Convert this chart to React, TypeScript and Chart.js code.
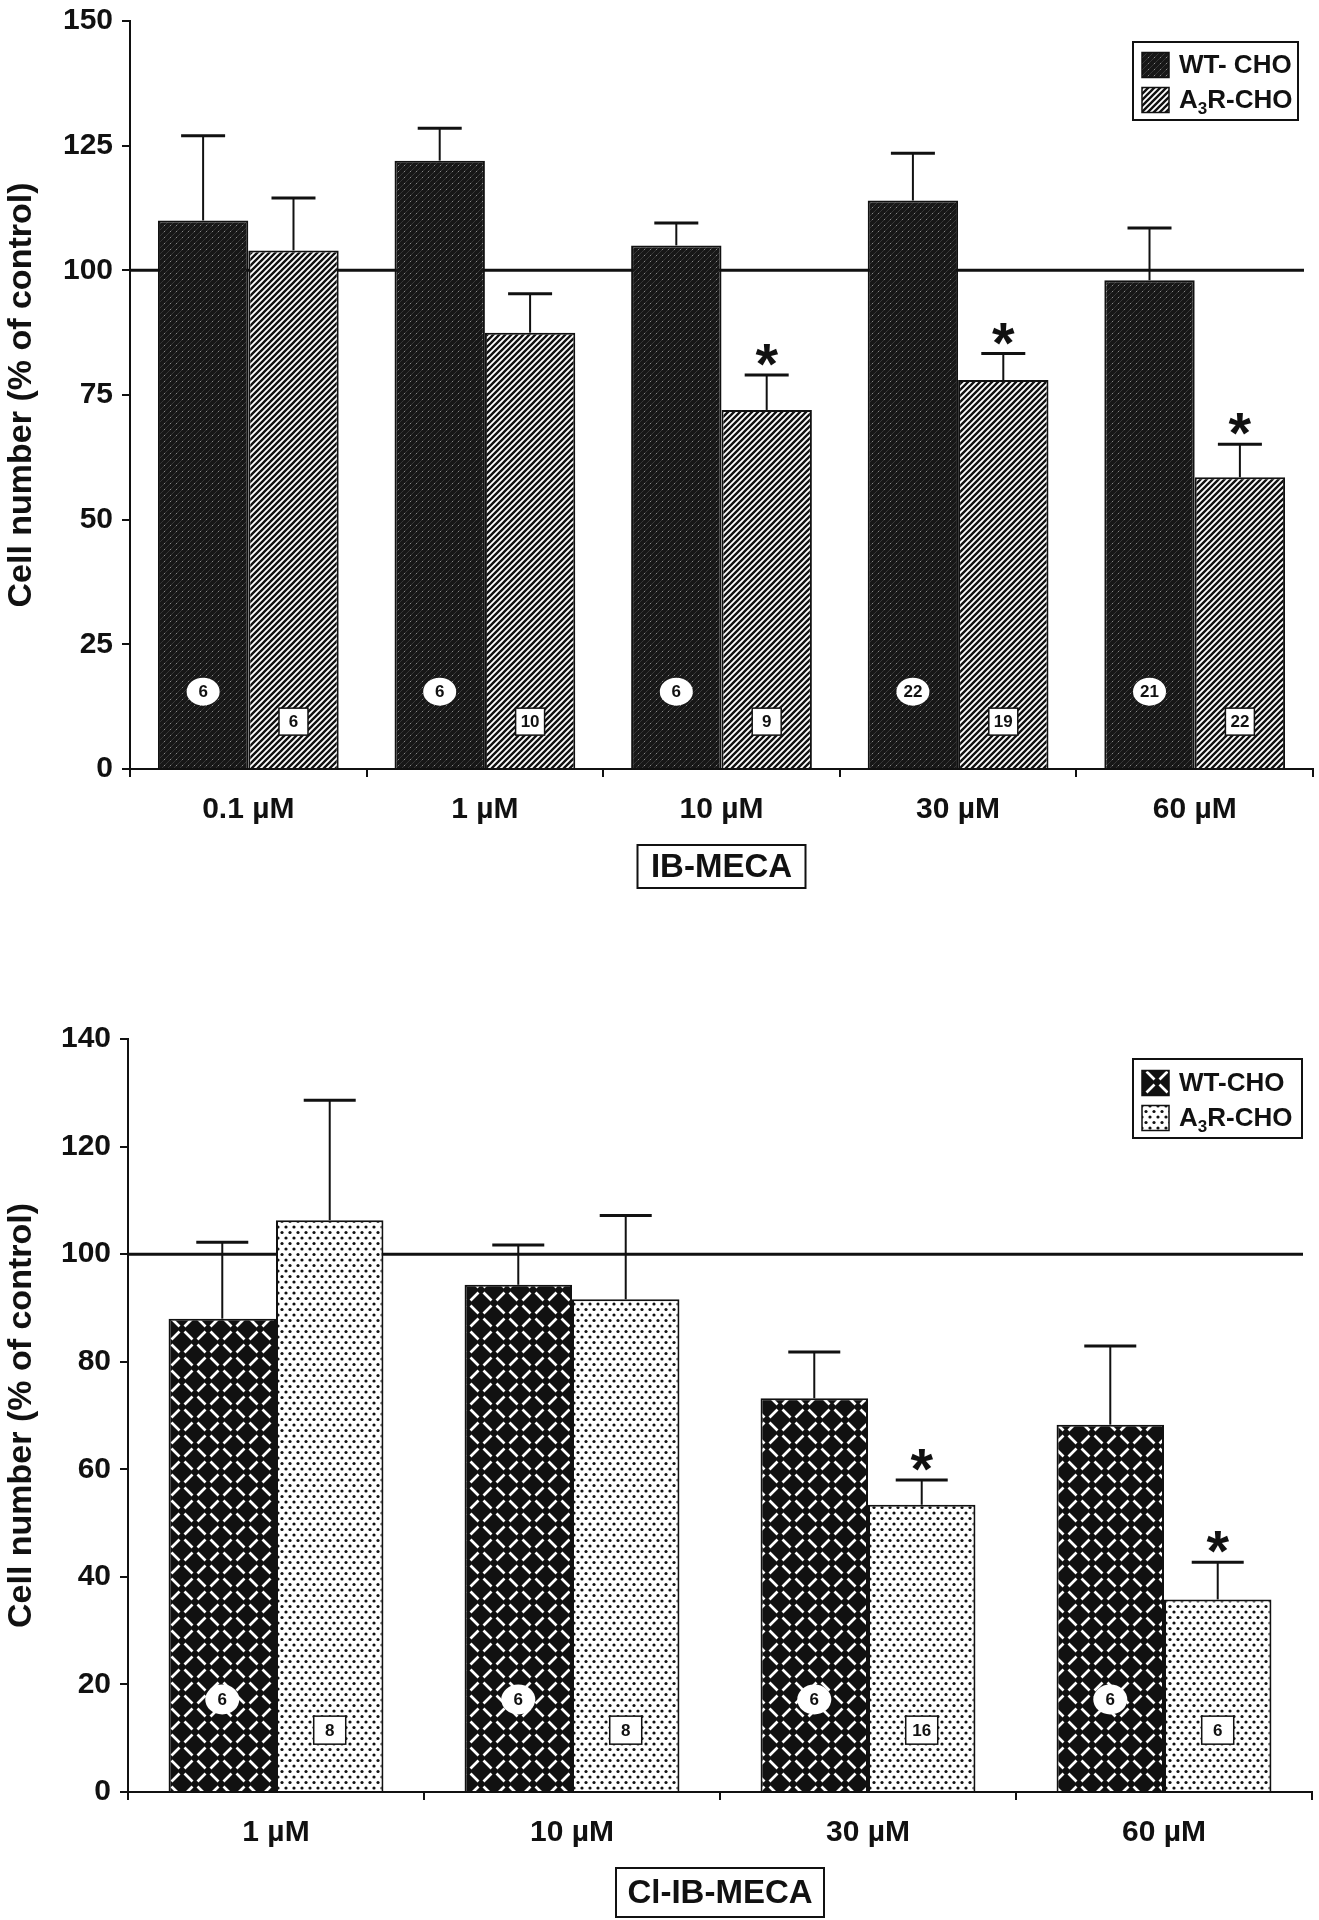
import React, { useEffect, useRef } from 'react';
import { Chart, registerables } from 'chart.js';

Chart.register(...registerables);

const FONT = '"Liberation Sans", Arial, Helvetica, sans-serif';
const INK = '#111111';

// ---------- Panel A: IB-MECA ----------
const ibCategories = ['0.1 µM', '1 µM', '10 µM', '30 µM', '60 µM'];
const ibWT = [110, 122, 105, 114, 98];
const ibWTErr = [17, 6.5, 4.5, 9.5, 10.5];
const ibA3R = [104, 87.5, 72, 78, 58.5];
const ibA3RErr = [10.5, 7.8, 7, 5.3, 6.6];
const ibWTn = [6, 6, 6, 22, 21];
const ibA3Rn = [6, 10, 9, 19, 22];
const ibA3RSig = [false, false, true, true, true];
const ibTicks = [0, 25, 50, 75, 100, 125, 150];

// ---------- Panel B: Cl-IB-MECA ----------
const clCategories = ['1 µM', '10 µM', '30 µM', '60 µM'];
const clWT = [88, 94.3, 73.2, 68.3];
const clWTErr = [14.2, 7.4, 8.6, 14.6];
const clA3R = [106.3, 91.6, 53.4, 35.8];
const clA3RErr = [22.3, 15.6, 4.6, 6.9];
const clWTn = [6, 6, 6, 6];
const clA3Rn = [8, 8, 16, 6];
const clA3RSig = [false, false, true, true];
const clTicks = [0, 20, 40, 60, 80, 100, 120, 140];

const refLine = 100;

type Panel = {
  categories: string[];
  wt: number[];
  wtErr: number[];
  a3r: number[];
  a3rErr: number[];
  wtN: number[];
  a3rN: number[];
  sig: boolean[];
  ticks: number[];
  wtLegend: string;
  group: string;
  kind: 'A' | 'B';
  padTop: number;
  padRight: number;
  xHeight: number;
  yWidth: number;
  catPct: number;
  capW: number;
  circleVal: number;
  boxVal: number;
  circleR: [number, number];
  boxSize: [number, number];
  groupDy: number;
  groupW: number;
  groupH: number;
  legend: { dxRight: number; dy: number; w: number; h: number; r1: number; r2: number };
};

const panelA: Panel = {
  categories: ibCategories, wt: ibWT, wtErr: ibWTErr, a3r: ibA3R, a3rErr: ibA3RErr,
  wtN: ibWTn, a3rN: ibA3Rn, sig: ibA3RSig, ticks: ibTicks,
  wtLegend: 'WT- CHO', group: 'IB-MECA', kind: 'A',
  padTop: 11, padRight: 6, xHeight: 131, yWidth: 130, catPct: 0.764, capW: 44,
  circleVal: 15.5, boxVal: 9.5, circleR: [16.5, 14], boxSize: [29, 27],
  groupDy: 97.5, groupW: 168, groupH: 43,
  legend: { dxRight: 180, dy: 21, w: 165, h: 78, r1: 23, r2: 58 },
};

const panelB: Panel = {
  categories: clCategories, wt: clWT, wtErr: clWTErr, a3r: clA3R, a3rErr: clA3RErr,
  wtN: clWTn, a3rN: clA3Rn, sig: clA3RSig, ticks: clTicks,
  wtLegend: 'WT-CHO', group: 'Cl-IB-MECA', kind: 'B',
  padTop: 139, padRight: 7, xHeight: 128, yWidth: 128, catPct: 0.726, capW: 52,
  circleVal: 17.2, boxVal: 11.5, circleR: [17, 15], boxSize: [32, 28],
  groupDy: 100.5, groupW: 208, groupH: 49,
  legend: { dxRight: 179, dy: 20, w: 169, h: 79, r1: 24, r2: 59 },
};

function makeTile(w: number, h: number, draw: (g: CanvasRenderingContext2D) => void) {
  const c = document.createElement('canvas');
  c.width = w;
  c.height = h;
  const g = c.getContext('2d')!;
  draw(g);
  return c;
}

function darkHatch() {
  return makeTile(6, 6, (g) => {
    g.fillStyle = '#171717';
    g.fillRect(0, 0, 6, 6);
    g.strokeStyle = 'rgba(255,255,255,0.14)';
    g.lineWidth = 1;
    g.beginPath();
    g.moveTo(0, 6); g.lineTo(6, 0);
    g.moveTo(-1, 1); g.lineTo(1, -1);
    g.moveTo(5, 7); g.lineTo(7, 5);
    g.stroke();
    g.fillStyle = 'rgba(255,255,255,0.4)';
    g.fillRect(2, 3, 1, 1);
  });
}

function lightHatch() {
  return makeTile(6, 6, (g) => {
    g.fillStyle = '#ffffff';
    g.fillRect(0, 0, 6, 6);
    g.strokeStyle = INK;
    g.lineWidth = 2.4;
    g.beginPath();
    g.moveTo(0, 6); g.lineTo(6, 0);
    g.moveTo(-3, 3); g.lineTo(3, -3);
    g.moveTo(3, 9); g.lineTo(9, 3);
    g.stroke();
  });
}

function weave() {
  const T = 26;
  return makeTile(T, T, (g) => {
    g.fillStyle = INK;
    g.fillRect(0, 0, T, T);
    g.strokeStyle = '#ffffff';
    g.lineWidth = 2.7;
    const d = 4.0;
    const dash = (cx: number, cy: number, dir: number) => {
      g.beginPath();
      g.moveTo(cx - d, cy + dir * d);
      g.lineTo(cx + d, cy - dir * d);
      g.stroke();
    };
    dash(6.5, 6.5, 1);
    dash(19.5, 6.5, -1);
    dash(6.5, 19.5, -1);
    dash(19.5, 19.5, 1);
  });
}

function dots() {
  return makeTile(8, 11, (g) => {
    g.fillStyle = '#ffffff';
    g.fillRect(0, 0, 8, 11);
    g.fillStyle = INK;
    g.beginPath();
    g.arc(2, 2.5, 1.6, 0, Math.PI * 2);
    g.fill();
    g.beginPath();
    g.arc(6, 8, 1.6, 0, Math.PI * 2);
    g.fill();
  });
}

function makeChart(canvas: HTMLCanvasElement, p: Panel) {
  const c2d = canvas.getContext('2d')!;
  const wtFill = c2d.createPattern(p.kind === 'A' ? darkHatch() : weave(), 'repeat')!;
  const a3Fill = c2d.createPattern(p.kind === 'A' ? lightHatch() : dots(), 'repeat')!;

  const plugin = {
    id: 'figAnnot',
    beforeDatasetsDraw(chart: any) {
      const { ctx, chartArea, scales } = chart;
      const yy = scales.y.getPixelForValue(refLine);
      ctx.save();
      ctx.strokeStyle = INK;
      ctx.lineWidth = 3;
      ctx.beginPath();
      ctx.moveTo(chartArea.left, yy);
      ctx.lineTo(chartArea.right - 9, yy);
      ctx.stroke();
      ctx.restore();
    },
    afterDatasetsDraw(chart: any) {
      const { ctx, chartArea, scales } = chart;
      const y = scales.y;
      const series = [
        { vals: p.wt, err: p.wtErr, n: p.wtN, circle: true, sig: null as boolean[] | null },
        { vals: p.a3r, err: p.a3rErr, n: p.a3rN, circle: false, sig: p.sig },
      ];
      ctx.save();
      series.forEach((s, di) => {
        const meta = chart.getDatasetMeta(di);
        meta.data.forEach((bar: any, j: number) => {
          const x = bar.x;
          const top = y.getPixelForValue(s.vals[j]);
          const et = y.getPixelForValue(s.vals[j] + s.err[j]);
          ctx.strokeStyle = INK;
          ctx.lineWidth = 2;
          ctx.beginPath();
          ctx.moveTo(x, top);
          ctx.lineTo(x, et);
          ctx.stroke();
          ctx.lineWidth = 3;
          ctx.beginPath();
          ctx.moveTo(x - p.capW / 2, et);
          ctx.lineTo(x + p.capW / 2, et);
          ctx.stroke();
          if (s.sig && s.sig[j]) {
            ctx.fillStyle = INK;
            ctx.font = `bold 58px ${FONT}`;
            ctx.textAlign = 'center';
            ctx.textBaseline = 'alphabetic';
            ctx.fillText('*', x, et + 9);
          }
          const ly = y.getPixelForValue(s.circle ? p.circleVal : p.boxVal);
          if (s.circle) {
            ctx.fillStyle = '#ffffff';
            ctx.beginPath();
            ctx.ellipse(x, ly, p.circleR[0], p.circleR[1], 0, 0, Math.PI * 2);
            ctx.fill();
          } else {
            const [bw, bh] = p.boxSize;
            ctx.fillStyle = '#ffffff';
            ctx.fillRect(x - bw / 2, ly - bh / 2, bw, bh);
            ctx.lineWidth = 1.5;
            ctx.strokeStyle = INK;
            ctx.strokeRect(x - bw / 2, ly - bh / 2, bw, bh);
          }
          ctx.fillStyle = INK;
          ctx.font = `bold 17px ${FONT}`;
          ctx.textAlign = 'center';
          ctx.textBaseline = 'middle';
          ctx.fillText(String(s.n[j]), x, ly + 1);
        });
      });

      // legend
      const L = p.legend;
      const lx = chartArea.right - L.dxRight;
      const lyTop = chartArea.top + L.dy;
      ctx.fillStyle = '#ffffff';
      ctx.fillRect(lx, lyTop, L.w, L.h);
      ctx.lineWidth = 2;
      ctx.strokeStyle = INK;
      ctx.strokeRect(lx, lyTop, L.w, L.h);
      const rows = [
        { fill: wtFill, cy: lyTop + L.r1 },
        { fill: a3Fill, cy: lyTop + L.r2 },
      ];
      rows.forEach((r, i) => {
        ctx.fillStyle = r.fill;
        ctx.fillRect(lx + 9, r.cy - 12.5, 27, 25);
        ctx.lineWidth = 1.5;
        ctx.strokeStyle = INK;
        ctx.strokeRect(lx + 9, r.cy - 12.5, 27, 25);
        ctx.fillStyle = INK;
        ctx.textAlign = 'left';
        ctx.textBaseline = 'middle';
        ctx.font = `bold 26px ${FONT}`;
        const tx = lx + 46;
        if (i === 0) {
          ctx.fillText(p.wtLegend, tx, r.cy + 1);
        } else {
          ctx.fillText('A', tx, r.cy + 1);
          const wA = ctx.measureText('A').width;
          ctx.font = `bold 17px ${FONT}`;
          ctx.fillText('3', tx + wA, r.cy + 9);
          const w3 = ctx.measureText('3').width;
          ctx.font = `bold 26px ${FONT}`;
          ctx.fillText('R-CHO', tx + wA + w3, r.cy + 1);
        }
      });

      // group label box
      const gx = (chartArea.left + chartArea.right) / 2;
      const gy = chartArea.bottom + p.groupDy;
      ctx.fillStyle = '#ffffff';
      ctx.fillRect(gx - p.groupW / 2, gy - p.groupH / 2, p.groupW, p.groupH);
      ctx.lineWidth = 2;
      ctx.strokeStyle = INK;
      ctx.strokeRect(gx - p.groupW / 2, gy - p.groupH / 2, p.groupW, p.groupH);
      ctx.fillStyle = INK;
      ctx.font = `bold 33px ${FONT}`;
      ctx.textAlign = 'center';
      ctx.textBaseline = 'middle';
      ctx.fillText(p.group, gx, gy + 1);
      ctx.restore();
    },
  };

  const tickFont = { family: FONT, size: 30, weight: 'bold' as const, lineHeight: 0.8 };

  return new Chart(canvas, {
    type: 'bar',
    data: {
      labels: p.categories,
      datasets: [
        {
          label: p.wtLegend,
          data: p.wt,
          backgroundColor: wtFill as any,
          borderColor: INK,
          borderWidth: 2,
          categoryPercentage: p.catPct,
          barPercentage: 1,
        },
        {
          label: 'A3R-CHO',
          data: p.a3r,
          backgroundColor: a3Fill as any,
          borderColor: INK,
          borderWidth: 2,
          categoryPercentage: p.catPct,
          barPercentage: 1,
        },
      ],
    },
    options: {
      responsive: false,
      animation: false,
      devicePixelRatio: 1,
      layout: { padding: { left: 0, right: p.padRight, top: p.padTop, bottom: 0 } },
      plugins: { legend: { display: false }, tooltip: { enabled: false } },
      scales: {
        x: {
          grid: {
            display: true,
            offset: true,
            drawOnChartArea: false,
            drawTicks: true,
            tickLength: 8,
            color: INK,
            lineWidth: 2,
          },
          border: { display: true, color: INK, width: 2 },
          ticks: { color: INK, font: tickFont, padding: 21, maxRotation: 0, autoSkip: false },
          afterFit: (s: any) => {
            s.height = p.xHeight;
          },
        },
        y: {
          min: p.ticks[0],
          max: p.ticks[p.ticks.length - 1],
          grid: {
            drawOnChartArea: false,
            drawTicks: true,
            tickLength: 8,
            color: INK,
            lineWidth: 2,
          },
          border: { display: true, color: INK, width: 2 },
          ticks: { color: INK, font: tickFont, padding: 9, stepSize: p.ticks[1] - p.ticks[0] },
          afterBuildTicks: (s: any) => {
            s.ticks = p.ticks.map((v) => ({ value: v }));
          },
          title: {
            display: true,
            text: 'Cell number (% of control)',
            color: INK,
            font: { family: FONT, size: 34, weight: 'bold' },
            padding: { top: 1, bottom: 0 },
          },
          afterFit: (s: any) => {
            s.width = p.yWidth;
          },
        },
      },
    },
    plugins: [plugin],
  } as any);
}

export default function App() {
  const topRef = useRef<HTMLCanvasElement>(null);
  const botRef = useRef<HTMLCanvasElement>(null);

  useEffect(() => {
    document.body.style.margin = '0';
    document.body.style.background = '#ffffff';
    const c1 = makeChart(topRef.current!, panelA);
    const c2 = makeChart(botRef.current!, panelB);
    return () => {
      c1.destroy();
      c2.destroy();
    };
  }, []);

  return (
    <div
      style={{
        position: 'absolute',
        left: 0,
        top: 0,
        width: 1319,
        height: 1920,
        overflow: 'hidden',
        background: '#ffffff',
      }}
    >
      <canvas ref={topRef} width={1319} height={900} style={{ position: 'absolute', left: 0, top: 0 }} />
      <canvas ref={botRef} width={1319} height={1020} style={{ position: 'absolute', left: 0, top: 900 }} />
    </div>
  );
}
